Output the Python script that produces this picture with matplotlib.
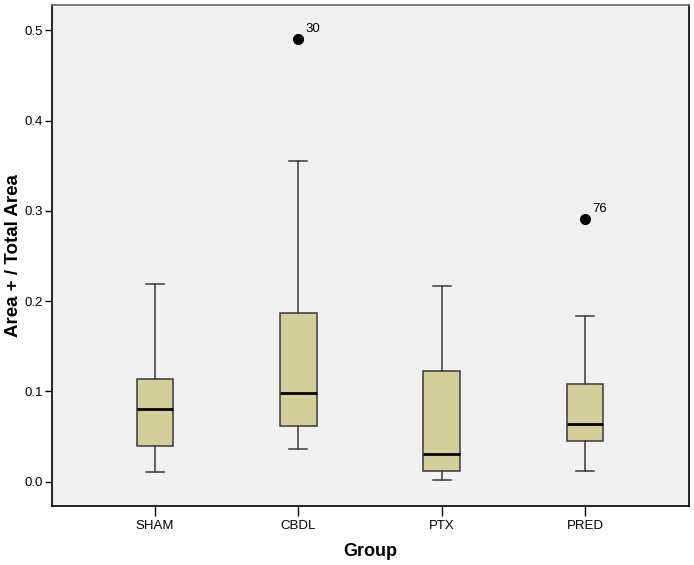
import matplotlib.pyplot as plt

groups = ['SHAM', 'CBDL', 'PTX', 'PRED']
whislo = [0.011, 0.036, 0.002, 0.012]
q1 = [0.040, 0.062, 0.012, 0.045]
med = [0.081, 0.098, 0.031, 0.064]
q3 = [0.114, 0.187, 0.123, 0.108]
whishi = [0.219, 0.355, 0.217, 0.184]
outliers = [[], [0.490], [], [0.291]]
outlier_ids = [[], ['30'], [], ['76']]

plt.rcParams['font.family'] = ['Liberation Sans', 'DejaVu Sans']

fig = plt.figure(figsize=(6.94, 5.65), dpi=100)
ax = fig.add_axes([0.0745, 0.1044, 0.918, 0.8866])
ax.set_facecolor('#f0f0f0')

stats = []
for i in range(len(groups)):
    stats.append({'label': groups[i], 'whislo': whislo[i], 'q1': q1[i], 'med': med[i],
                  'q3': q3[i], 'whishi': whishi[i], 'fliers': outliers[i]})

pos = [1, 2, 3, 4]
ax.bxp(stats, positions=pos, widths=0.255, patch_artist=True, showfliers=True,
       boxprops=dict(facecolor='#d4cf9a', edgecolor='#3a3a3a', linewidth=1.1),
       medianprops=dict(color='black', linewidth=2),
       whiskerprops=dict(color='#3a3a3a', linewidth=1.1),
       capprops=dict(color='#3a3a3a', linewidth=1.1),
       capwidths=0.127,
       flierprops=dict(marker='o', markerfacecolor='black', markeredgecolor='black', markersize=7))

for i in range(len(groups)):
    for v, lab in zip(outliers[i], outlier_ids[i]):
        ax.annotate(lab, (pos[i], v), xytext=(5, 5), textcoords='offset points',
                    fontsize=9.5, color='black')

ax.set_xlim(0.279, 4.724)
ax.set_ylim(-0.0269, 0.5279)
ax.set_yticks([0.0, 0.1, 0.2, 0.3, 0.4, 0.5])
ax.set_yticklabels(['0.0', '0.1', '0.2', '0.3', '0.4', '0.5'])
ax.set_xticks(pos)
ax.set_xticklabels(groups)
ax.tick_params(axis='y', length=5, width=1, labelsize=9.5, pad=1)
ax.tick_params(axis='x', length=7, width=1, labelsize=9.5, pad=3)

ax.set_xlabel('Group', fontsize=13, fontweight='bold', labelpad=8)
ax.set_ylabel('Area + / Total Area', fontsize=13.5, fontweight='bold')
ax.yaxis.set_label_coords(-0.047, 0.5)

for s in ['left', 'bottom', 'right']:
    ax.spines[s].set_color('black')
    ax.spines[s].set_linewidth(1.2)
ax.spines['top'].set_color('#666666')
ax.spines['top'].set_linewidth(1.2)

fig.savefig('out.png', dpi=100)
